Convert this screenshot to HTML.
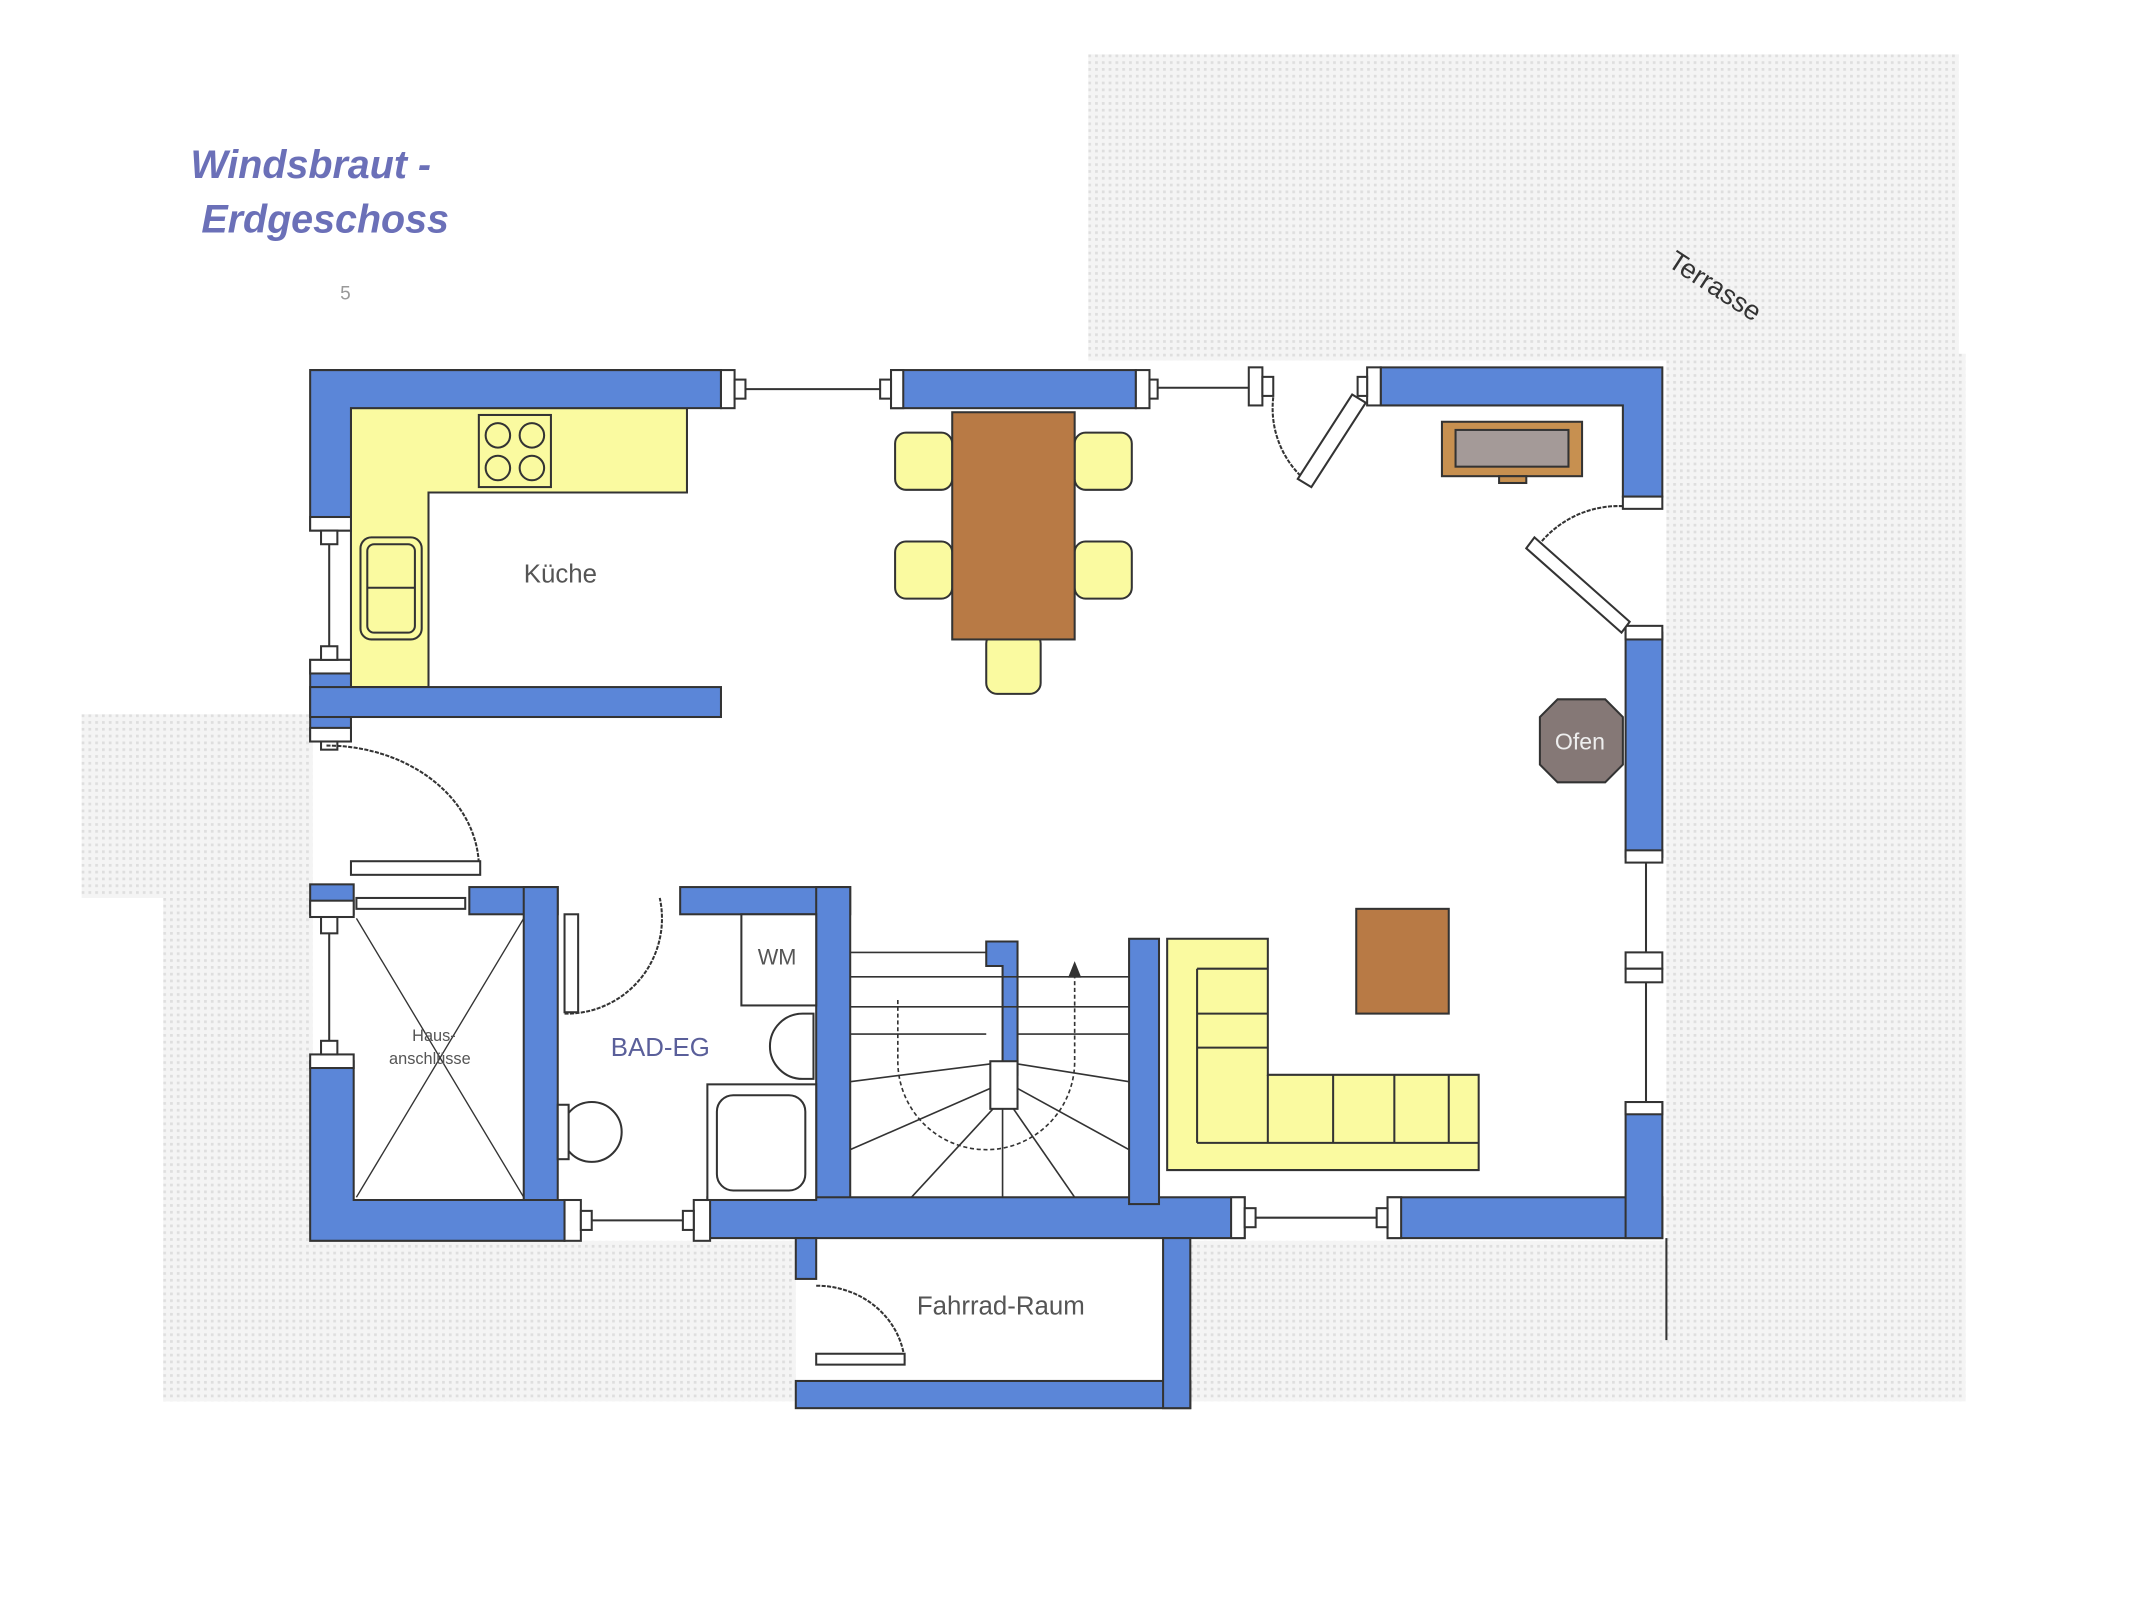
<!DOCTYPE html>
<html><head><meta charset="utf-8"><style>
html,body{margin:0;padding:0;background:#fff;width:2133px;height:1600px;overflow:hidden}
svg{display:block}
</style></head><body>
<svg width="2133" height="1600" viewBox="0 0 1568 1176" preserveAspectRatio="none" xmlns="http://www.w3.org/2000/svg" font-family="Liberation Sans, sans-serif">
<defs>
<pattern id="dots" width="5" height="5" patternUnits="userSpaceOnUse">
<rect width="5" height="5" fill="#f4f4f4"/><rect width="2" height="2" fill="#dedede"/>
</pattern>
</defs>
<rect width="1568" height="1176" fill="#fff"/>
<rect x="800" y="40" width="640" height="225" fill="url(#dots)"/>
<rect x="1225" y="260" width="220" height="770" fill="url(#dots)"/>
<rect x="60" y="525" width="170" height="135" fill="url(#dots)"/>
<rect x="120" y="660" width="110" height="370" fill="url(#dots)"/>
<rect x="120" y="912" width="465" height="118" fill="url(#dots)"/>
<rect x="875" y="912" width="350" height="118" fill="url(#dots)"/>
<rect x="258" y="298" width="940" height="585" fill="#fff"/>

<g font-family="Liberation Sans, sans-serif" font-style="italic" font-weight="bold" fill="#6b70b8" font-size="29">
<text x="140" y="131">Windsbraut -</text>
<text x="148" y="171">Erdgeschoss</text>
</g>
<text x="250" y="220" font-size="14" fill="#999">5</text>
<text x="1225" y="195" font-size="20" fill="#333" transform="rotate(33 1225 195)">Terrasse</text>

<g stroke="#333" stroke-width="1.5">
<path d="M258 300 H505 V362 H315 V505 H258 Z" fill="#fafaa0"/>
<rect x="352" y="305" width="53" height="53" fill="#fafaa0"/>
<circle cx="366" cy="320" r="9" fill="none"/><circle cx="391" cy="320" r="9" fill="none"/>
<circle cx="366" cy="344" r="9" fill="none"/><circle cx="391" cy="344" r="9" fill="none"/>
<rect x="265" y="395" width="45" height="75" rx="8" fill="#fafaa0"/>
<rect x="270" y="400" width="35" height="65" rx="5" fill="none"/>
<line x1="270" y1="432" x2="305" y2="432"/>

<rect x="658" y="318" width="42" height="42" rx="8" fill="#fafaa0"/>
<rect x="658" y="398" width="42" height="42" rx="8" fill="#fafaa0"/>
<rect x="790" y="318" width="42" height="42" rx="8" fill="#fafaa0"/>
<rect x="790" y="398" width="42" height="42" rx="8" fill="#fafaa0"/>
<rect x="725" y="465" width="40" height="45" rx="8" fill="#fafaa0"/>
<rect x="700" y="303" width="90" height="167" fill="#b87a45"/>

<g fill="#5b86d8">
<path d="M228 272 H530 V300 H258 V390 H228 Z"/>
<rect x="655" y="272" width="180" height="28"/>
<path d="M1015 270 H1222 V365 H1193 V298 H1015 Z"/>
<rect x="228" y="485" width="30" height="60"/>
<rect x="228" y="505" width="302" height="22"/>
<rect x="1195" y="465" width="27" height="165"/>
<rect x="228" y="650" width="32" height="22"/>
<rect x="345" y="652" width="65" height="20"/>
<rect x="385" y="652" width="25" height="258"/>
<path d="M228 780 H260 V882 H415 V912 H228 Z"/>
<rect x="500" y="652" width="125" height="20"/>
<rect x="600" y="652" width="25" height="232"/>
<rect x="520" y="880" width="395" height="30"/>
<rect x="1020" y="880" width="202" height="30"/>
<rect x="1195" y="810" width="27" height="100"/>
<rect x="830" y="690" width="22" height="195"/>
<path d="M725 692 H748 V790 H737 V710 H725 Z"/>
<rect x="585" y="910" width="15" height="30"/>
<rect x="585" y="1015" width="290" height="20"/>
<rect x="855" y="910" width="20" height="125"/>
</g>

<g fill="#fff">
<rect x="530" y="272" width="10" height="28"/><rect x="540" y="279" width="8" height="14"/>
<rect x="655" y="272" width="9" height="28"/><rect x="647" y="279" width="8" height="14"/>
<rect x="835" y="272" width="10" height="28"/><rect x="845" y="279" width="6" height="14"/>
<rect x="918" y="270" width="10" height="28"/><rect x="928" y="277" width="8" height="14"/>
<rect x="1005" y="270" width="10" height="28"/><rect x="998" y="277" width="7" height="14"/>
<rect x="228" y="380" width="30" height="10"/><rect x="236" y="390" width="12" height="10"/>
<rect x="228" y="485" width="30" height="10"/><rect x="236" y="475" width="12" height="10"/>
<rect x="228" y="535" width="30" height="10"/><rect x="236" y="545" width="12" height="6"/>
<rect x="1193" y="365" width="29" height="9"/>
<rect x="1195" y="460" width="27" height="10"/>
<rect x="1195" y="625" width="27" height="9"/>
<rect x="1195" y="810" width="27" height="9"/>
<rect x="228" y="662" width="32" height="12"/><rect x="236" y="674" width="12" height="12"/>
<rect x="228" y="775" width="32" height="10"/><rect x="236" y="765" width="12" height="10"/>
<rect x="415" y="882" width="12" height="30"/><rect x="427" y="890" width="8" height="14"/>
<rect x="510" y="882" width="12" height="30"/><rect x="502" y="890" width="8" height="14"/>
<rect x="905" y="880" width="10" height="30"/><rect x="915" y="888" width="8" height="14"/>
<rect x="1020" y="880" width="10" height="30"/><rect x="1012" y="888" width="8" height="14"/>
<rect x="1195" y="700" width="27" height="12"/><rect x="1195" y="712" width="27" height="10"/>
</g>
<line x1="548" y1="286" x2="647" y2="286"/>
<line x1="851" y1="285" x2="918" y2="285"/>
<line x1="242" y1="400" x2="242" y2="475"/>
<line x1="242" y1="686" x2="242" y2="765"/>
<line x1="435" y1="897" x2="502" y2="897"/>
<line x1="923" y1="895" x2="1012" y2="895"/>
<line x1="1210" y1="634" x2="1210" y2="700"/>
<line x1="1210" y1="722" x2="1210" y2="810"/>
<line x1="1225" y1="910" x2="1225" y2="985"/>

<g fill="none" stroke-dasharray="3 1">
<path d="M240 548 A112 90 0 0 1 352 635"/>
<path d="M936 292 A70 70 0 0 0 962 355"/>
<path d="M1193 372 A75 75 0 0 0 1130 402"/>
<path d="M415 745 A70 70 0 0 0 485 660"/>
<path d="M600 945 A65 60 0 0 1 665 1000"/>
</g>
<g fill="#fff">
<rect x="258" y="633" width="95" height="10"/>
<polygon points="994,290 1004,296 964,358 954,352"/>
<polygon points="1122,403 1128,395 1198,457 1192,465"/>
<rect x="415" y="672" width="10" height="72"/>
<rect x="600" y="995" width="65" height="8"/>
<rect x="262" y="660" width="80" height="8"/>
</g>

<line x1="262" y1="675" x2="385" y2="880" stroke-width="1"/>
<line x1="385" y1="675" x2="262" y2="880" stroke-width="1"/>

<rect x="545" y="672" width="55" height="67" fill="#fff"/>
<path d="M598 745 H590 A24 24 0 0 0 590 793 H598 Z" fill="#fff"/>
<rect x="520" y="797" width="80" height="85" fill="#fff"/>
<rect x="527" y="805" width="65" height="70" rx="12" fill="none"/>
<circle cx="435" cy="832" r="22" fill="#fff"/>
<rect x="410" y="812" width="8" height="40" fill="#fff"/>

<g stroke-width="1.2" fill="none">
<line x1="625" y1="700" x2="725" y2="700"/>
<line x1="625" y1="718" x2="830" y2="718"/>
<line x1="625" y1="740" x2="830" y2="740"/>
<line x1="625" y1="760" x2="725" y2="760"/>
<line x1="748" y1="760" x2="830" y2="760"/>
<line x1="625" y1="795" x2="728" y2="782"/>
<line x1="625" y1="845" x2="728" y2="800"/>
<line x1="670" y1="880" x2="730" y2="815"/>
<line x1="737" y1="815" x2="737" y2="880"/>
<line x1="745" y1="815" x2="790" y2="880"/>
<line x1="748" y1="800" x2="830" y2="845"/>
<line x1="748" y1="782" x2="830" y2="795"/>
<path d="M660 735 V780 A55 55 0 0 0 790 780 V712" stroke-dasharray="3 2"/>
<polygon points="786,718 790,708 794,718" fill="#333"/>
</g>
<rect x="728" y="780" width="20" height="35" fill="#fff"/>

<path d="M858 690 H932 V790 H1087 V860 H858 Z" fill="#fafaa0"/>
<line x1="880" y1="712" x2="932" y2="712"/>
<line x1="880" y1="712" x2="880" y2="840"/>
<line x1="880" y1="840" x2="1087" y2="840"/>
<line x1="880" y1="745" x2="932" y2="745"/>
<line x1="880" y1="770" x2="932" y2="770"/>
<line x1="932" y1="790" x2="932" y2="840"/>
<line x1="980" y1="790" x2="980" y2="840"/>
<line x1="1025" y1="790" x2="1025" y2="840"/>
<line x1="1065" y1="790" x2="1065" y2="840"/>
<rect x="997" y="668" width="68" height="77" fill="#b87a45"/>

<rect x="1060" y="310" width="103" height="40" fill="#c79050"/>
<rect x="1070" y="316" width="83" height="27" fill="#a49a98"/>
<rect x="1102" y="350" width="20" height="5" fill="#c79050"/>
<polygon points="1145,514 1180,514 1193,527 1193,562 1180,575 1145,575 1132,562 1132,527" fill="#857876"/>
</g>

<g fill="#555" font-size="19">
<text x="385" y="428">Küche</text>
<text x="449" y="776" fill="#5a5f9a">BAD-EG</text>
<text x="674" y="966">Fahrrad-Raum</text>
<text x="557" y="709" font-size="16">WM</text>
<text x="1143" y="551" fill="#eee" font-size="17">Ofen</text>
<text x="303" y="765" font-size="12">Haus-</text>
<text x="286" y="782" font-size="12">anschlüsse</text>
</g>
</svg>
</body></html>
